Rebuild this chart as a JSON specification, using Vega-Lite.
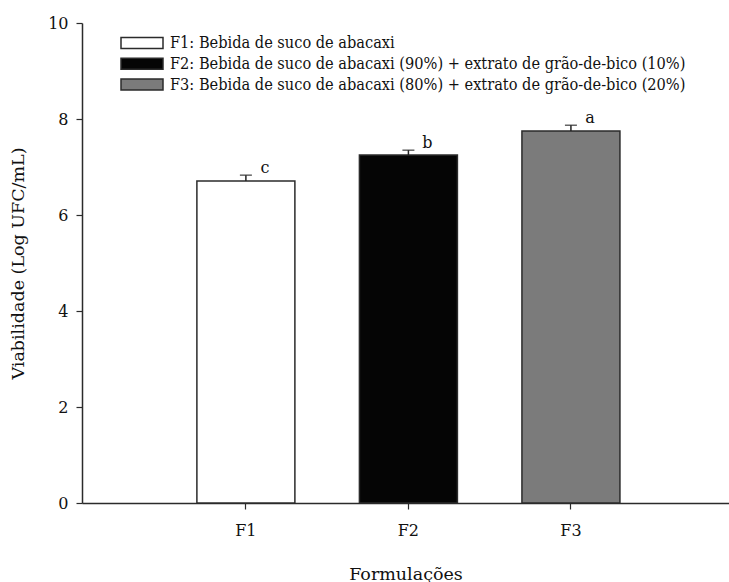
{
  "$schema": "https://vega.github.io/schema/vega-lite/v6.json",
  "autosize": "none",
  "width": 647,
  "height": 480,
  "padding": {"left": 82, "top": 23, "right": 0, "bottom": 79},
  "background": "white",
  "config": {
    "view": {"stroke": null},
    "axis": {
      "grid": false,
      "domainColor": "#2b2b2b",
      "domainWidth": 1.5,
      "tickColor": "#2b2b2b",
      "tickWidth": 1.2,
      "tickSize": 6,
      "labelColor": "#111111",
      "labelFont": "DejaVu Serif",
      "labelFontSize": 16,
      "titleFont": "DejaVu Serif",
      "titleFontSize": 17.5,
      "titleFontWeight": "normal",
      "titleColor": "#111111"
    }
  },
  "data": {
    "values": [
      {"formulacao": "F1", "legenda": "F1: Bebida de suco de abacaxi", "media": 6.71, "superior": 6.83, "letra": "c"},
      {"formulacao": "F2", "legenda": "F2: Bebida de suco de abacaxi (90%) + extrato de grão-de-bico (10%)", "media": 7.25, "superior": 7.35, "letra": "b"},
      {"formulacao": "F3", "legenda": "F3: Bebida de suco de abacaxi (80%) + extrato de grão-de-bico (20%)", "media": 7.75, "superior": 7.87, "letra": "a"}
    ]
  },
  "encoding": {
    "x": {
      "field": "formulacao",
      "type": "nominal",
      "scale": {"paddingInner": 0.397, "paddingOuter": 0.689, "align": 0.513},
      "axis": {"title": "Formulações", "labelAngle": 0, "labelPadding": 13, "titlePadding": 27}
    }
  },
  "layer": [
    {
      "mark": {"type": "bar", "stroke": "#2b2b2b", "strokeWidth": 1.5},
      "encoding": {
        "y": {
          "field": "media",
          "type": "quantitative",
          "scale": {"domain": [0, 10], "nice": false},
          "axis": {"title": "Viabilidade (Log UFC/mL)", "values": [0, 2, 4, 6, 8, 10], "labelPadding": 8, "titlePadding": 20}
        },
        "fill": {
          "field": "legenda",
          "type": "nominal",
          "scale": {"range": ["#ffffff", "#050505", "#7b7b7b"]},
          "legend": {
            "title": null,
            "orient": "none",
            "legendX": 49,
            "legendY": 9,
            "padding": 0,
            "rowPadding": 0.8,
            "symbolType": "M-2.1,-0.55H2.1V0.55H-2.1Z",
            "symbolSize": 400,
            "symbolStrokeColor": "#2b2b2b",
            "symbolStrokeWidth": 1.5,
            "labelOffset": 17,
            "labelFont": "DejaVu Serif Condensed",
            "labelFontSize": 16.2,
            "labelColor": "#111111",
            "labelLimit": 0
          }
        }
      }
    },
    {
      "mark": {"type": "rule", "color": "#222222", "strokeWidth": 1.5},
      "encoding": {
        "y": {"field": "media", "type": "quantitative"},
        "y2": {"field": "superior"}
      }
    },
    {
      "mark": {"type": "tick", "color": "#222222", "thickness": 1.5, "size": 12, "orient": "horizontal"},
      "encoding": {
        "y": {"field": "superior", "type": "quantitative"}
      }
    },
    {
      "mark": {"type": "text", "dx": 19, "dy": -2, "baseline": "alphabetic", "align": "center", "font": "DejaVu Serif", "fontSize": 16, "color": "#111111"},
      "encoding": {
        "y": {"field": "superior", "type": "quantitative"},
        "text": {"field": "letra"}
      }
    }
  ]
}
